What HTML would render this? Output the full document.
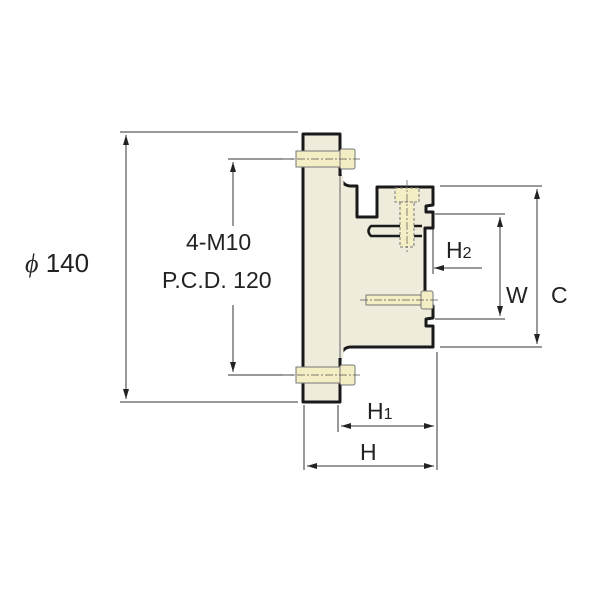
<!DOCTYPE html>
<html><head><style>body{margin:0;background:#fff}</style></head><body>
<svg width="600" height="600" xmlns="http://www.w3.org/2000/svg" font-family="Liberation Sans, sans-serif">
<defs><marker id="a" viewBox="0 0 10 6" refX="10" refY="3" markerWidth="10" markerHeight="6" orient="auto-start-reverse" markerUnits="userSpaceOnUse"><path d="M0,0L10,3L0,6z" fill="#222"/></marker></defs>
<g stroke="#333" stroke-width="1" fill="none">
<line x1="120" y1="132" x2="298" y2="132"/><line x1="120" y1="402" x2="298" y2="402"/>
<line x1="126" y1="135" x2="126" y2="399" marker-start="url(#a)" marker-end="url(#a)"/>
<line x1="228" y1="159" x2="294" y2="159"/><line x1="228" y1="375" x2="294" y2="375"/>
<line x1="233" y1="162" x2="233" y2="226" marker-start="url(#a)"/>
<line x1="233" y1="305" x2="233" y2="372" marker-end="url(#a)"/>
<line x1="440" y1="186" x2="542" y2="186"/><line x1="440" y1="347" x2="542" y2="347"/>
<line x1="537" y1="189" x2="537" y2="344" marker-start="url(#a)" marker-end="url(#a)"/>
<line x1="435" y1="214" x2="505" y2="214"/><line x1="435" y1="319" x2="505" y2="319"/>
<line x1="500" y1="217" x2="500" y2="316" marker-start="url(#a)" marker-end="url(#a)"/>
<line x1="433" y1="220" x2="433" y2="274"/>
<line x1="482" y1="268" x2="434" y2="268" marker-end="url(#a)"/>
<line x1="383" y1="268" x2="420" y2="268" marker-end="url(#a)"/>
<line x1="338" y1="405" x2="338" y2="432"/><line x1="437" y1="352" x2="437" y2="470"/>
<line x1="304" y1="405" x2="304" y2="470"/>
<line x1="341" y1="426" x2="434" y2="426" marker-start="url(#a)" marker-end="url(#a)"/>
<line x1="307" y1="466" x2="434" y2="466" marker-start="url(#a)" marker-end="url(#a)"/>
</g>
<g fill="#efecdc" stroke="#1a1a1a" stroke-width="3" stroke-linejoin="round">
<path d="M340,172 Q340,185 350,186 L357,186 L357,217 L377,217 L377,187 L433,187 L433,205 L426,206 L426,212 L433,212 L433,228 L425,228 L425,306 L433,306 L433,318 L426,319 L426,326 L433,326 L433,347 L350,347 Q340,348 340,362"/>
<rect x="303" y="134" width="37" height="268"/>
<path d="M422,226 L371,226 Q366,231 371,236 L422,236" stroke-width="2.5"/>
</g>
<rect x="338.5" y="176" width="5" height="182" fill="#efecdc"/>
<line x1="340" y1="176" x2="340" y2="358" stroke="#666" stroke-width="1"/>
<g fill="#f4eec4" stroke="#777" stroke-width="1">
<rect x="296" y="151" width="44" height="16"/><rect x="340" y="149" width="15" height="20" rx="2"/>
<rect x="296" y="367" width="44" height="16"/><rect x="340" y="365" width="15" height="20" rx="2"/>
<rect x="366" y="295" width="56" height="10"/><rect x="421" y="291" width="12" height="18" rx="2"/>
<rect x="395" y="188" width="24" height="14" stroke-dasharray="3,2"/><rect x="400" y="202" width="14" height="45" stroke-dasharray="3,2"/>
</g>
<g stroke="#555" stroke-width="0.7" stroke-dasharray="8,2,2,2">
<line x1="283" y1="159" x2="360" y2="159"/><line x1="283" y1="375" x2="360" y2="375"/>
<line x1="360" y1="300" x2="440" y2="300"/><line x1="407" y1="180" x2="407" y2="252"/>
</g>
<g fill="#222" font-size="23">
<text x="25" y="272" font-size="26"><tspan font-style="italic" font-family="Liberation Serif, serif">ϕ</tspan> 140</text>
<text x="186" y="250">4-M10</text>
<text x="162" y="288">P.C.D. 120</text>
<text x="446" y="258">H<tspan font-size="16">2</tspan></text>
<text x="506" y="303">W</text>
<text x="551" y="303">C</text>
<text x="367" y="419">H<tspan font-size="16">1</tspan></text>
<text x="360" y="460">H</text>
</g>
</svg>
</body></html>
